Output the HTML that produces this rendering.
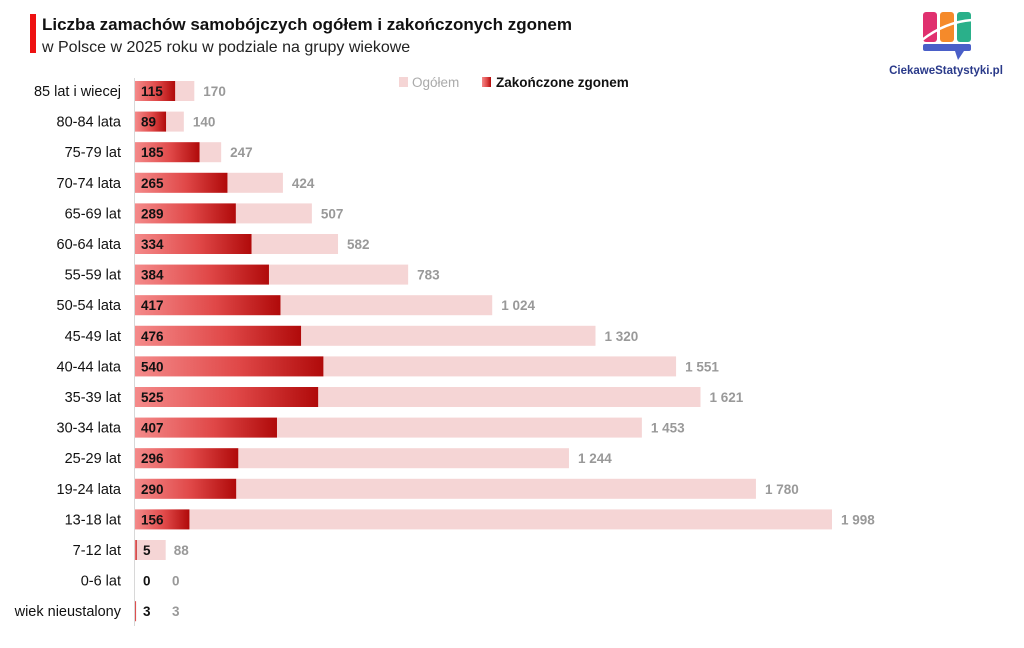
<!DOCTYPE html>
<html><head><meta charset="utf-8"><style>
body{margin:0;width:1024px;height:643px;background:#fff;overflow:hidden;font-family:"Liberation Sans",sans-serif}
</style></head><body>
<svg id="c" width="1024" height="643" xmlns="http://www.w3.org/2000/svg">
<defs><linearGradient id="g" x1="0" x2="1" y1="0" y2="0"><stop offset="0" stop-color="#f48a8a"/><stop offset="0.55" stop-color="#e04848"/><stop offset="1" stop-color="#b00a0a"/></linearGradient></defs>
<rect x="30" y="14" width="6" height="39" fill="#ee1111"/>
<text x="42" y="30" font-size="17" font-weight="bold" fill="#111">Liczba zamachów samobójczych ogółem i zakończonych zgonem</text>
<text x="42" y="52" font-size="16" fill="#222">w Polsce w 2025 roku w podziale na grupy wiekowe</text>
<g>
<rect x="923" y="12" width="14" height="30" rx="3" fill="#e0306f"/>
<rect x="940" y="12" width="14" height="30" rx="3" fill="#f58a2a"/>
<rect x="957" y="12" width="14" height="30" rx="3" fill="#2ab08a"/>
<rect x="923" y="44" width="48" height="7" rx="2" fill="#4a5fc8"/>
<polygon points="955,51 964,51 958,60" fill="#4a5fc8"/>
<path d="M922,40 Q945,22 972,20" stroke="#fff" stroke-width="2.5" fill="none"/>
<text x="946" y="74" font-size="11.5" font-weight="bold" fill="#2a3a8a" text-anchor="middle">CiekaweStatystyki.pl</text>
</g>
<g>
<rect x="399" y="77" width="9" height="10" fill="#f5d5d5"/>
<text x="412" y="87" font-size="13.5" fill="#aaa">Ogółem</text>
<rect x="482" y="77" width="9" height="10" fill="url(#g)"/>
<text x="496" y="87" font-size="13.5" font-weight="bold" fill="#111">Zakończone zgonem</text>
</g>
<line x1="134.5" y1="78" x2="134.5" y2="626" stroke="#d8d8d8"/>
<g id="bars"></g>
</svg>
<script>
const categories=["85 lat i wiecej","80-84 lata","75-79 lat","70-74 lata","65-69 lat","60-64 lata","55-59 lat","50-54 lata","45-49 lat","40-44 lata","35-39 lat","30-34 lata","25-29 lat","19-24 lata","13-18 lat","7-12 lat","0-6 lat","wiek nieustalony"];
const totalValues=[170,140,247,424,507,582,783,1024,1320,1551,1621,1453,1244,1780,1998,88,0,3];
const deathValues=[115,89,185,265,289,334,384,417,476,540,525,407,296,290,156,5,0,3];
const NS="http://www.w3.org/2000/svg";
const x0=135,scale=(832-135)/1998;
const xs=v=>v*scale;
const ys=i=>91+i*30.6;
const fmt=v=>v>=1000?String(v).replace(/\B(?=(\d{3})+$)/," "):String(v);
const g=document.getElementById("bars");
function mk(t,a){const e=document.createElementNS(NS,t);for(const k in a)e.setAttribute(k,a[k]);g.appendChild(e);return e;}
categories.forEach((c,i)=>{
 const y=ys(i);
 let e=mk("text",{x:121,y:y+5,"font-size":14.5,"text-anchor":"end",fill:"#111"});e.textContent=c;
 
 
 e=mk("rect",{x:x0,y:y-10,width:xs(totalValues[i]),height:20,fill:"#f5d5d5"});
 
 
 e=mk("rect",{x:x0,y:y-10,width:xs(deathValues[i]),height:20,fill:"url(#g)"});
 
 
 e=mk("text",{x:i>=15?x0+8:x0+6,y:y+5,"font-size":13.5,"font-weight":"bold",fill:"#111"});e.textContent=fmt(deathValues[i]);
 
 
 const tx=i>=15?Math.max(x0+xs(totalValues[i])+8,172):x0+xs(totalValues[i])+9;
 e=mk("text",{x:tx,y:y+5,"font-size":13.5,"font-weight":"bold",fill:"#999"});e.textContent=fmt(totalValues[i]);
 
 
});
</script>
</body></html>
